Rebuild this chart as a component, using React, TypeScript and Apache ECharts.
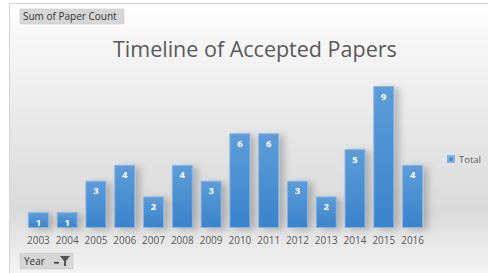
import React, { useEffect, useRef } from "react";
import * as echarts from "echarts";

const years = ["2003", "2004", "2005", "2006", "2007", "2008", "2009", "2010", "2011", "2012", "2013", "2014", "2015", "2016"];
const paperCounts = [1, 1, 3, 4, 2, 4, 3, 6, 6, 3, 2, 5, 9, 4];
const seriesName = "Total";
const titleText = "Timeline of Accepted Papers";
const fieldButton = "Sum of Paper Count";
const axisButton = "Year";

export default function App() {
  const ref = useRef<HTMLDivElement>(null);
  useEffect(() => {
    if (!ref.current) return;
    const chart = echarts.init(ref.current, null, { renderer: "svg" });
    const font = "'Open Sans', 'Liberation Sans', sans-serif";
    chart.setOption({
      animation: false,
      backgroundColor: "#ffffff",
      textStyle: { fontFamily: font },
      title: {
        text: titleText,
        left: 108,
        top: 32,
        textStyle: { fontFamily: font, fontSize: 21.5, fontWeight: "normal", color: "#595959" },
      },
      legend: {
        right: 2,
        top: 149,
        itemWidth: 6,
        itemHeight: 6,
        itemGap: 4,
        icon: "rect",
        textStyle: { fontFamily: font, fontSize: 9.5, color: "#595959" },
        data: [seriesName],
      },
      grid: { left: 24, right: 61, top: 86, bottom: 45 },
      xAxis: {
        type: "category",
        data: years,
        axisLine: { show: false },
        axisTick: { show: false },
        axisLabel: { color: "#595959", fontSize: 10, margin: 7, fontFamily: font, interval: 0 },
      },
      yAxis: { type: "value", min: 0, max: 9, show: false, splitLine: { show: false } },
      graphic: [
        {
          type: "rect",
          z: -10,
          silent: true,
          shape: { x: 9.5, y: 3.5, width: 500, height: 290 },
          style: {
            stroke: "#d4d4d4",
            lineWidth: 1,
            fill: new echarts.graphic.LinearGradient(0, 0, 0, 1, [
              { offset: 0, color: "#ffffff" },
              { offset: 0.1, color: "#f8f8f8" },
              { offset: 0.45, color: "#e6e6e6" },
              { offset: 0.72, color: "#dadada" },
              { offset: 0.85, color: "#ebebeb" },
              { offset: 1, color: "#fbfbfb" },
            ]),
          },
        },
        {
          type: "rect",
          silent: true,
          shape: { x: 20, y: 9, width: 104, height: 15 },
          style: { fill: "#d6d6d6", stroke: "#c4c4c4", lineWidth: 0.5 },
        },
        {
          type: "text",
          silent: true,
          x: 23,
          y: 10.5,
          style: { text: fieldButton, fontSize: 10, fill: "#333333", fontFamily: font },
        },
        {
          type: "rect",
          silent: true,
          shape: { x: 20, y: 253, width: 53, height: 16 },
          style: { fill: "#d6d6d6", stroke: "#c4c4c4", lineWidth: 0.5 },
        },
        {
          type: "text",
          silent: true,
          x: 24,
          y: 255.5,
          style: { text: axisButton, fontSize: 10, fill: "#333333", fontFamily: font },
        },
        {
          type: "polygon",
          silent: true,
          shape: { points: [[60, 256], [70, 256], [66, 261], [66, 266], [64, 266], [64, 261]] },
          style: { fill: "#555555" },
        },
        {
          type: "rect",
          silent: true,
          shape: { x: 54, y: 262, width: 5, height: 1.5 },
          style: { fill: "#333333" },
        },
      ],
      series: [
        {
          name: seriesName,
          type: "bar",
          data: paperCounts,
          barWidth: 21,
          itemStyle: {
            color: new echarts.graphic.LinearGradient(0, 0, 0, 1, [
              { offset: 0, color: "#5d9cd8" },
              { offset: 1, color: "#3a83cb" },
            ]),
            borderColor: "#86b5e3",
            borderWidth: 1,
            shadowColor: "rgba(0,0,0,0.22)",
            shadowBlur: 7,
            shadowOffsetX: 5,
            shadowOffsetY: 2,
          },
          label: {
            show: true,
            position: "insideTop",
            distance: 5,
            color: "#ffffff",
            fontSize: 9.5,
            fontWeight: "bold",
            fontFamily: font,
          },
        },
      ],
    });
    return () => chart.dispose();
  }, []);
  return <div ref={ref} style={{ position: "fixed", left: 0, top: 0, width: 488, height: 273 }} />;
}
